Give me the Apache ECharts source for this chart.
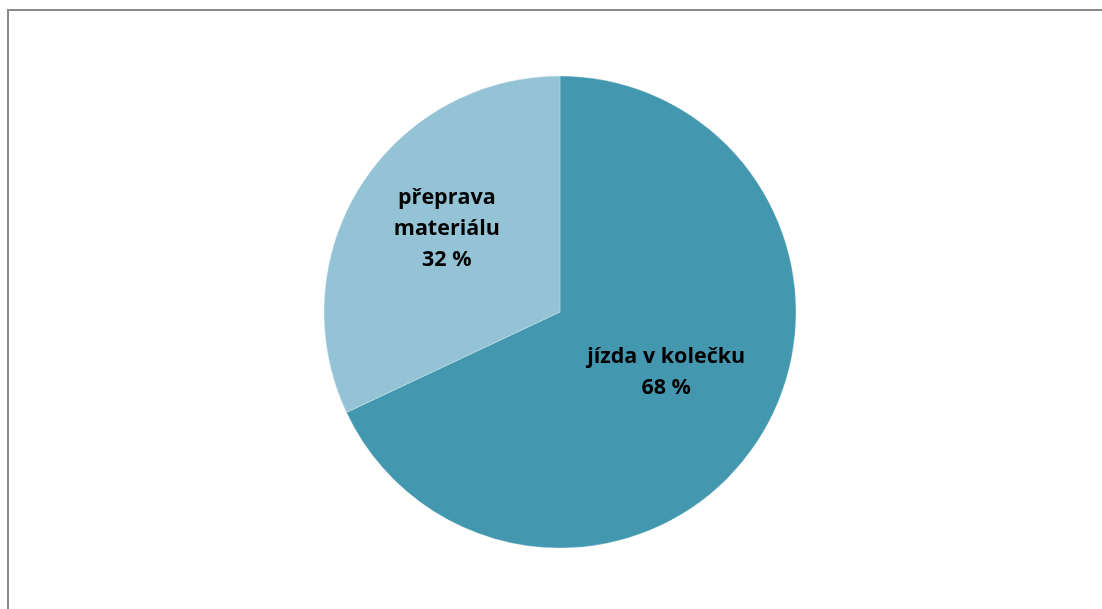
<!DOCTYPE html>
<html><head><meta charset="utf-8">
<script src="https://cdn.jsdelivr.net/npm/echarts@6/dist/echarts.min.js"></script>
<style>html,body{margin:0;padding:0;background:#fff;}#c{width:1102px;height:609px;}</style>
</head><body><div id="c"></div>
<script>
const categories = ['jízda v kolečku', 'přeprava\nmateriálu'];
const values = [68, 32];
const colors = ['#4398B0', '#93C3D4'];
const labelShift = [[4, -4], [-11, -18]];

const chart = echarts.init(document.getElementById('c'), null, {renderer: 'canvas'});
chart.setOption({
  animation: false,
  backgroundColor: '#fff',
  graphic: [{
    type: 'rect', shape: {x: 8, y: 10, width: 1200, height: 700},
    style: {fill: 'none', stroke: '#8a8a8a', lineWidth: 2}, silent: true
  }],
  series: [{
    type: 'pie',
    center: [560, 312],
    radius: 236,
    startAngle: 90,
    clockwise: true,
    itemStyle: {borderColor: 'rgba(255,255,255,0.5)', borderWidth: 0.5},
    label: {
      show: true, position: 'inside',
      formatter: p => p.name + '\n' + p.value + ' %',
      fontFamily: 'Open Sans', fontWeight: 'bold', fontSize: 21.5,
      color: '#000', lineHeight: 31, align: 'center'
    },
    labelLayout: p => ({dx: labelShift[p.dataIndex][0], dy: labelShift[p.dataIndex][1]}),
    data: categories.map((n, i) => ({name: n, value: values[i], itemStyle: {color: colors[i]}}))
  }]
});
</script></body></html>
